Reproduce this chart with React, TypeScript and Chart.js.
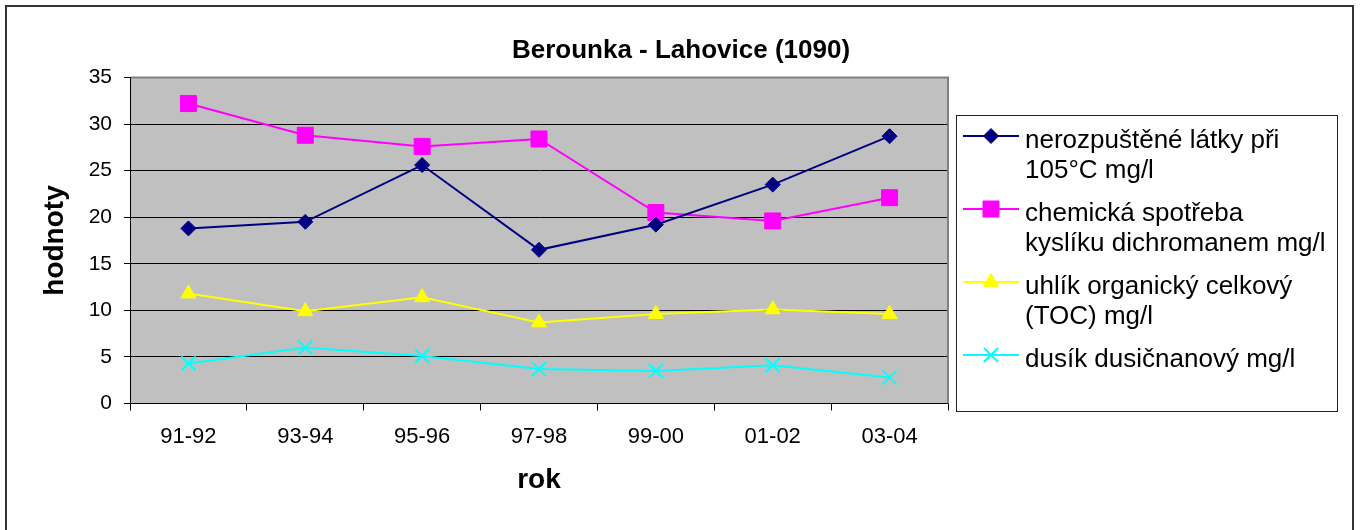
import React, { useEffect, useRef } from 'react';
import Chart from 'chart.js/auto';
import { drawPoint } from 'chart.js/helpers';

const chartTitle = 'Berounka - Lahovice (1090)';
const xAxisTitle = 'rok';
const yAxisTitle = 'hodnoty';
const categories = ['91-92', '93-94', '95-96', '97-98', '99-00', '01-02', '03-04'];
const nerozpusteneLatky = [18.8, 19.5, 25.6, 16.5, 19.2, 23.5, 28.7];
const chemickaSpotreba = [32.2, 28.8, 27.6, 28.4, 20.5, 19.6, 22.1];
const uhlikOrganicky = [11.8, 9.9, 11.4, 8.7, 9.6, 10.1, 9.6];
const dusikDusicnanovy = [4.3, 6.0, 5.1, 3.7, 3.5, 4.1, 2.8];
const yMin = 0;
const yMax = 35;
const yStep = 5;
const legendLines = [
  ['nerozpuštěné látky při', '105°C mg/l'],
  ['chemická spotřeba', 'kyslíku dichromanem mg/l'],
  ['uhlík organický celkový', '(TOC) mg/l'],
  ['dusík dusičnanový mg/l'],
];

const FONT = '"Liberation Sans", Arial, Helvetica, sans-serif';

export default function App() {
  const ref = useRef<HTMLCanvasElement>(null);
  useEffect(() => {
    document.body.style.margin = '0';
    const canvas = ref.current!;

    const framePlugin = {
      id: 'framePlugin',
      beforeDraw(chart: any) {
        const { ctx, chartArea: a, width, height } = chart;
        ctx.save();
        ctx.fillStyle = '#ffffff';
        ctx.fillRect(0, 0, width, height);
        ctx.strokeStyle = '#333333';
        ctx.lineWidth = 2;
        ctx.beginPath();
        ctx.moveTo(6, height);
        ctx.lineTo(6, 6);
        ctx.lineTo(1353, 6);
        ctx.lineTo(1353, height);
        ctx.stroke();
        ctx.fillStyle = '#C0C0C0';
        ctx.fillRect(a.left, a.top, a.right - a.left, a.bottom - a.top);
        ctx.fillStyle = '#000';
        ctx.font = 'bold 26px ' + FONT;
        ctx.textAlign = 'center';
        ctx.textBaseline = 'alphabetic';
        ctx.fillText(chartTitle, 681, 58);
        ctx.restore();
      },
      beforeDatasetsDraw(chart: any) {
        const { ctx, chartArea: a } = chart;
        ctx.save();
        ctx.strokeStyle = '#808080';
        ctx.lineWidth = 2;
        ctx.beginPath();
        ctx.moveTo(a.left + 1, a.top);
        ctx.lineTo(a.right, a.top);
        ctx.lineTo(a.right, a.bottom);
        ctx.stroke();
        ctx.restore();
      },
      afterDraw(chart: any) {
        const ctx = chart.ctx;
        ctx.save();
        ctx.fillStyle = '#fff';
        ctx.fillRect(956, 115, 381, 296);
        ctx.strokeStyle = '#222';
        ctx.lineWidth = 1;
        ctx.strokeRect(956.5, 115.5, 381, 296);
        let baseline = 148;
        const lh = 29.5;
        chart.data.datasets.forEach((ds: any, i: number) => {
          const lines = legendLines[i];
          const ly = baseline - 12;
          ctx.strokeStyle = ds.borderColor;
          ctx.lineWidth = 2;
          ctx.beginPath();
          ctx.moveTo(963, ly);
          ctx.lineTo(1019, ly);
          ctx.stroke();
          ctx.fillStyle = ds.pointBackgroundColor;
          ctx.strokeStyle = ds.pointBorderColor;
          ctx.lineWidth = ds.pointBorderWidth;
          drawPoint(ctx, { pointStyle: ds.pointStyle, radius: ds.pointRadius, borderWidth: ds.pointBorderWidth, rotation: 0 }, 991, ly);
          ctx.fillStyle = '#000';
          ctx.font = '26px ' + FONT;
          ctx.textAlign = 'left';
          ctx.textBaseline = 'alphabetic';
          lines.forEach((t, j) => ctx.fillText(t, 1025, baseline + j * lh));
          baseline += lines.length * lh + 14;
        });
        ctx.restore();
      },
    };

    const mk = (label: string, data: number[], color: string, style: string, r: number, bw: number) => ({
      label,
      data,
      borderColor: color,
      backgroundColor: color,
      pointBackgroundColor: color,
      pointBorderColor: color,
      pointStyle: style,
      pointRadius: r,
      pointHoverRadius: r,
      pointBorderWidth: bw,
      borderWidth: 2,
      tension: 0,
      fill: false,
    });

    const chart = new Chart(canvas, {
      type: 'line',
      data: {
        labels: categories,
        datasets: [
          mk(legendLines[0].join(' '), nerozpusteneLatky, '#000080', 'rectRot', 7.5, 1),
          mk(legendLines[1].join(' '), chemickaSpotreba, '#FF00FF', 'rect', 11.3, 1),
          mk(legendLines[2].join(' '), uhlikOrganicky, '#FFFF00', 'triangle', 8.7, 1),
          mk(legendLines[3].join(' '), dusikDusicnanovy, '#00FFFF', 'crossRot', 10, 2),
        ] as any,
      },
      options: {
        responsive: false,
        animation: false,
        events: [],
        layout: { padding: { left: 0, top: 77.5, right: 413, bottom: 0 } },
        plugins: {
          legend: { display: false },
          title: { display: false },
          tooltip: { enabled: false },
        },
        scales: {
          x: {
            offset: true,
            grid: { offset: true, drawOnChartArea: false, drawTicks: true, tickLength: 7, color: '#000', lineWidth: 1 },
            border: { color: '#000', width: 1 },
            ticks: { color: '#000', font: { family: FONT, size: 22 }, padding: 13, maxRotation: 0, autoSkip: false },
            title: { display: true, text: xAxisTitle, color: '#000', font: { family: FONT, size: 28, weight: 'bold' }, padding: { top: 0, bottom: 33 } },
            afterFit: (s: any) => { s.height = 126.5; },
          },
          y: {
            min: yMin,
            max: yMax,
            ticks: { stepSize: yStep, color: '#000', font: { family: FONT, size: 21 }, padding: 12 },
            grid: { color: '#000', lineWidth: 1, tickLength: 6, drawTicks: true },
            border: { color: '#000', width: 1 },
            title: { display: true, text: yAxisTitle, color: '#000', font: { family: FONT, size: 28, weight: 'bold' }, padding: { top: 38, bottom: 0 } },
            afterFit: (s: any) => { s.width = 130; },
          },
        },
      } as any,
      plugins: [framePlugin],
    });
    return () => chart.destroy();
  }, []);
  return (
    <div style={{ width: 1361, height: 530 }}>
      <canvas ref={ref} width={1361} height={530} style={{ display: 'block' }} />
    </div>
  );
}
